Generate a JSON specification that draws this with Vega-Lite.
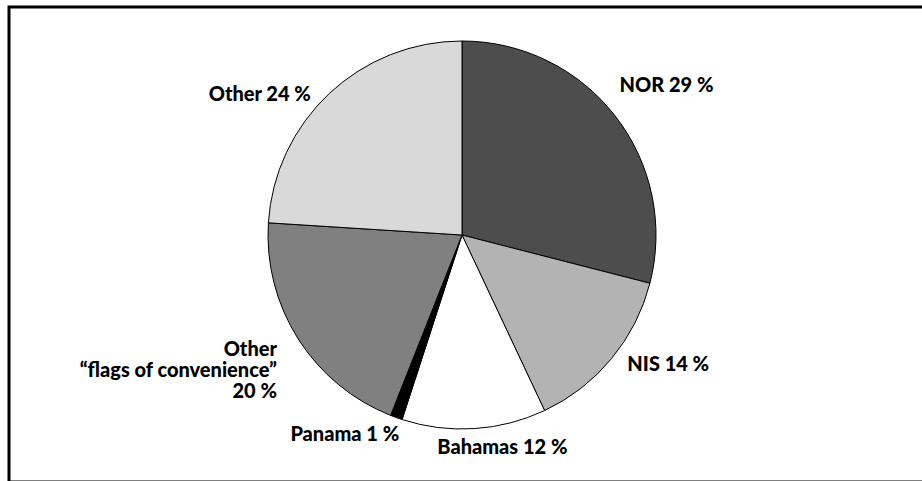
{
  "$schema": "https://vega.github.io/schema/vega-lite/v6.json",
  "width": 915,
  "height": 475,
  "padding": {"left": 7, "top": 5, "right": 0, "bottom": 1},
  "background": "white",
  "config": {"view": {"stroke": null}},
  "data": {
    "values": [
      {"flag": "NOR", "pct": 29, "order": 1, "label": "NOR 29 %"},
      {"flag": "NIS", "pct": 14, "order": 2, "label": "NIS 14 %"},
      {"flag": "Bahamas", "pct": 12, "order": 3, "label": "Bahamas 12 %"},
      {"flag": "Panama", "pct": 1, "order": 4, "label": "Panama 1 %"},
      {"flag": "Other flags of convenience", "pct": 20, "order": 5, "label": "Other\n“flags of convenience”\n20 %"},
      {"flag": "Other", "pct": 24, "order": 6, "label": "Other 24 %"}
    ]
  },
  "layer": [
    {
      "data": {"values": [{"frame": 1}]},
      "mark": {"type": "rect", "fill": null, "stroke": "black", "strokeWidth": 3, "strokeJoin": "miter"},
      "encoding": {
        "x": {"value": 0},
        "x2": {"value": "width"},
        "y": {"value": 0},
        "y2": {"value": "height"}
      }
    },
    {
      "mark": {"type": "arc", "outerRadius": 194, "x": 453, "y": 228, "stroke": "black", "strokeWidth": 1},
      "encoding": {
        "theta": {"field": "pct", "type": "quantitative", "stack": true},
        "order": {"field": "order", "type": "quantitative"},
        "color": {
          "field": "flag",
          "type": "nominal",
          "scale": {
            "domain": ["NOR", "NIS", "Bahamas", "Panama", "Other flags of convenience", "Other"],
            "range": ["#4d4d4d", "#b3b3b3", "#ffffff", "#000000", "#808080", "#d9d9d9"]
          },
          "legend": null
        }
      }
    },
    {
      "mark": {
        "type": "text",
        "radius": 212,
        "x": 453,
        "y": 228,
        "font": "Lato",
        "fontWeight": 900,
        "fontSize": 20,
        "lineBreak": "\n",
        "lineHeight": 21,
        "baseline": "middle",
        "align": {"expr": "(datum.pct_start + datum.pct_end) / 2 < 50 ? 'left' : 'right'"},
        "dx": {"expr": "datum.flag == 'NOR' ? -10 : datum.flag == 'Bahamas' ? -38 : datum.flag == 'Panama' ? 9 : datum.flag == 'NIS' ? 2 : -6"},
        "dy": {"expr": "datum.flag == 'NOR' ? -19 : datum.flag == 'Other' ? 15 : datum.flag == 'NIS' ? -5 : 1"},
        "color": "black"
      },
      "encoding": {
        "theta": {"field": "pct", "type": "quantitative", "stack": true},
        "order": {"field": "order", "type": "quantitative"},
        "text": {"field": "label", "type": "nominal"}
      }
    }
  ]
}
